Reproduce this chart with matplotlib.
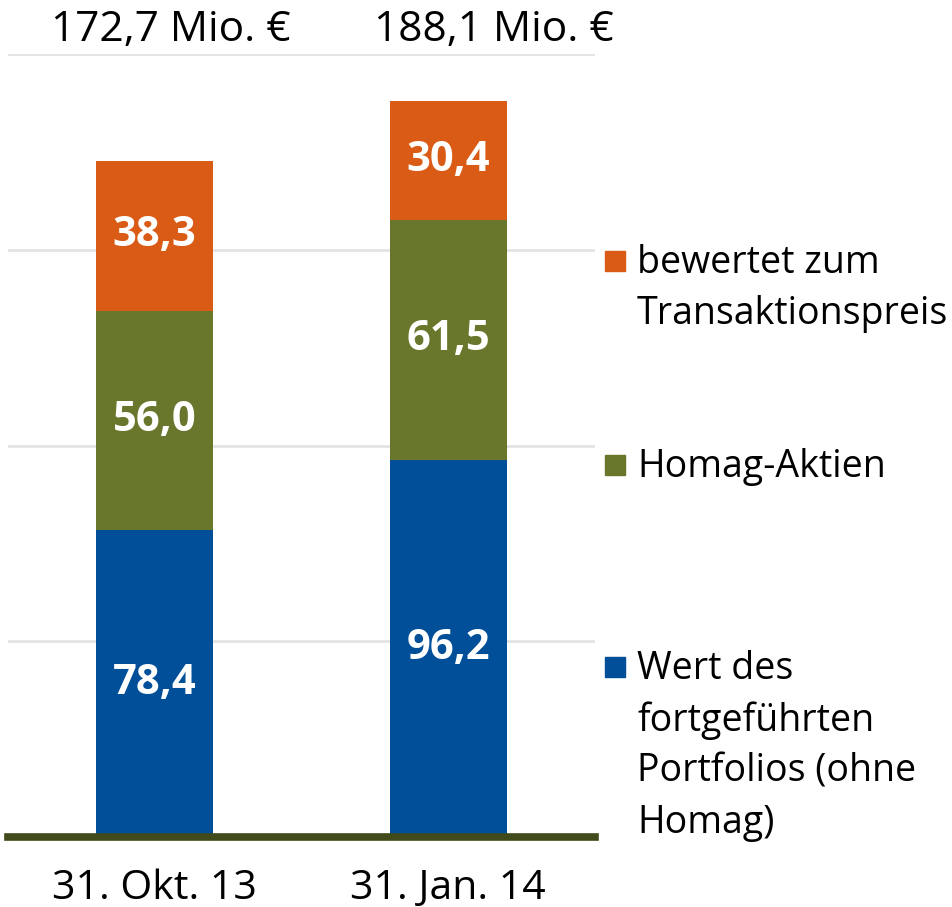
import matplotlib.pyplot as plt
from matplotlib.patches import Rectangle

categories = ["31. Okt. 13", "31. Jan. 14"]
portfolio = [78.4, 96.2]
homag = [56.0, 61.5]
transaktion = [38.3, 30.4]
totals = ["172,7 Mio. €", "188,1 Mio. €"]
series_labels = ["Wert des\nfortgeführten\nPortfolios (ohne\nHomag)", "Homag-Aktien",
                 "bewertet zum\nTransaktionspreis"]
colors = ["#004F98", "#69772D", "#D95B15"]

plt.rcParams['font.family'] = ['Open Sans', 'DejaVu Sans']

W, H = 953, 907
fig = plt.figure(figsize=(W / 100, H / 100), dpi=100)
ax = fig.add_axes([8 / W, (H - 837) / H, (595 - 8) / W, (837 - 54) / H])

x = list(range(len(categories)))
series = [portfolio, homag, transaktion]
bottom = [0.0] * len(categories)
for vals, col in zip(series, colors):
    ax.bar(x, vals, width=0.4, bottom=bottom, color=col, zorder=3)
    for xi, v, b in zip(x, vals, bottom):
        ax.text(xi, b + v / 2, f"{v:.1f}".replace(".", ","), ha="center", va="center",
                color="white", fontsize=30, fontweight="bold", zorder=4)
    bottom = [b + v for b, v in zip(bottom, vals)]

ax.set_xlim(-0.5, 1.5)
ax.set_ylim(0, 200)
ax.set_yticks([50, 100, 150, 200])
ax.yaxis.grid(True, color="#e3e3e3", linewidth=2, zorder=0)
ax.tick_params(axis="y", left=False, labelleft=False)
ax.tick_params(axis="x", bottom=False, labelsize=29.5, pad=19)
ax.set_xticks(x)
ax.set_xticklabels(categories)
for s in ["top", "right", "left"]:
    ax.spines[s].set_visible(False)
ax.spines["bottom"].set_color("#404A1B")
ax.spines["bottom"].set_linewidth(5.5)
ax.spines["bottom"].set_zorder(5)

# total labels
total_x = [0.056, 1.155]
for tx, t in zip(total_x, totals):
    ax.text(tx, 206.2, t, ha="center", va="center", fontsize=30.5, clip_on=False)

# legend (manual)
leg_y = [667, 465, 261]
for lab, col, ly in zip(series_labels, colors, leg_y):
    fig.patches.append(Rectangle((605 / W, (H - ly - 10) / H), 20 / W, 20 / H,
                                 transform=fig.transFigure, color=col))
    fig.text(637 / W, (H - ly + 17) / H, lab, ha="left", va="top", fontsize=27,
             linespacing=1.45)

fig.savefig("out.png", dpi=100)
